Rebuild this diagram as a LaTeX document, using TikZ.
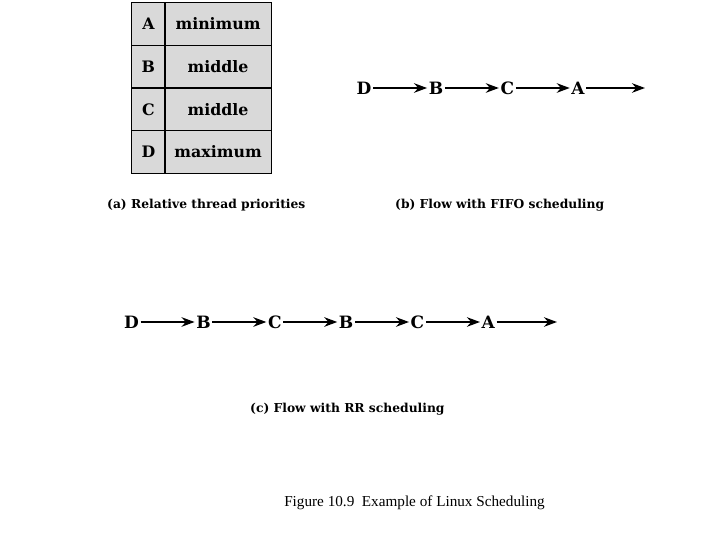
\documentclass[tikz,border=0pt]{standalone}
\usepackage{fontspec}
\setmainfont{Liberation Serif}
\newfontfamily\labelfont{DejaVu Serif}
\usetikzlibrary{matrix, positioning, arrows.meta}
\definecolor{cellgray}{HTML}{D9D9D9}

\begin{document}
\begin{tikzpicture}[
      x=1pt, y=-1pt,
      node distance=54pt,
      letter/.style={font=\labelfont\fontsize{17}{17}\selectfont\bfseries, inner sep=1.5pt},
      flow/.style={line width=2pt, -{Stealth[length=13pt, width=9.5pt]}},
      caption/.style={font=\labelfont\fontsize{12.3}{14}\selectfont\bfseries, anchor=west, inner sep=0pt}
    ]
    \useasboundingbox (0,0) rectangle (720,540);

    % (a) priority table
    \matrix (prio) [matrix of nodes, row sep=-1.2pt, column sep=-1.2pt,
        nodes={draw, fill=cellgray, line width=1.2pt, minimum height=42.7pt, inner sep=0pt,
               font=\labelfont\fontsize{15.8}{16}\selectfont\bfseries, anchor=center},
        column 1/.style={nodes={minimum width=33.2pt}},
        column 2/.style={nodes={minimum width=106.2pt}}] at (201.5,88) {
      A & minimum \\
      B & middle \\
      C & middle \\
      D & maximum \\};
    \node[caption] (capa) at (107,205) {(a) Relative thread priorities};

    % (b) FIFO flow
    \node[letter] (fd) at (364,88) {D};
    \node[letter, right=of fd] (fb) {B};
    \node[letter, right=of fb] (fc) {C};
    \node[letter, right=of fc] (fa) {A};
    \coordinate (fend) at (645,88);
    \draw[flow] (fd) -- (fb);
    \draw[flow] (fb) -- (fc);
    \draw[flow] (fc) -- (fa);
    \draw[flow] (fa) -- (fend);
    \node[caption] (capb) at (395,205) {(b) Flow with FIFO scheduling};

    % (c) RR flow
    \node[letter] (rd) at (131.5,322) {D};
    \node[letter, right=of rd] (rb1) {B};
    \node[letter, right=of rb1] (rc1) {C};
    \node[letter, right=of rc1] (rb2) {B};
    \node[letter, right=of rb2] (rc2) {C};
    \node[letter, right=of rc2] (ra) {A};
    \coordinate (rend) at (557,322);
    \draw[flow] (rd) -- (rb1);
    \draw[flow] (rb1) -- (rc1);
    \draw[flow] (rc1) -- (rb2);
    \draw[flow] (rb2) -- (rc2);
    \draw[flow] (rc2) -- (ra);
    \draw[flow] (ra) -- (rend);
    \node[caption] (capc) at (250,409) {(c) Flow with RR scheduling};

    \node[font=\fontsize{15.2}{18}\selectfont] (title) at (414.5,503) {Figure 10.9\enspace Example of Linux Scheduling};
  \end{tikzpicture}
\end{document}
